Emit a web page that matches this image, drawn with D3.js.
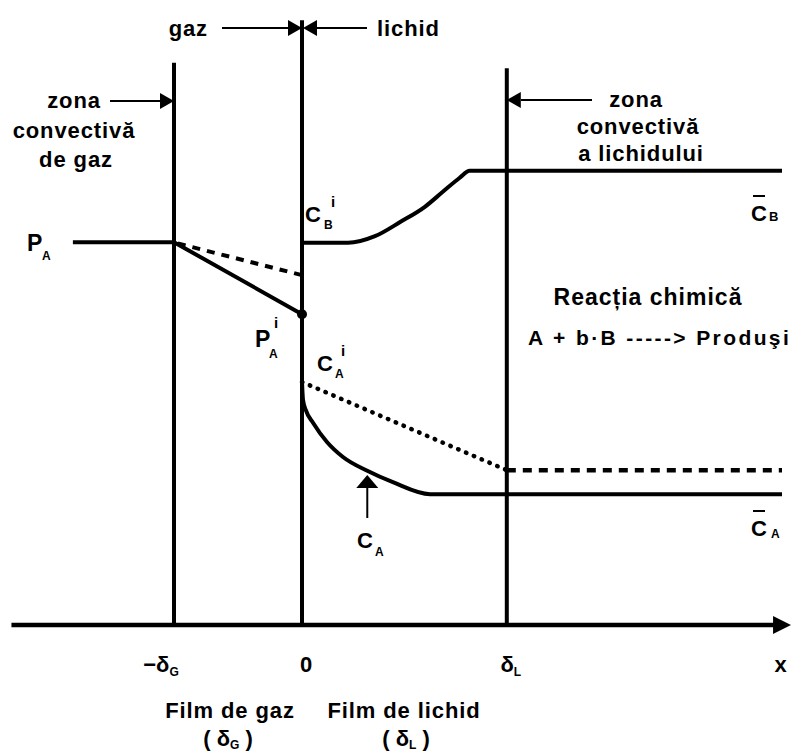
<!DOCTYPE html>
<html><head><meta charset="utf-8">
<script src="https://cdn.jsdelivr.net/npm/d3@7"></script>
<style>
html,body{margin:0;padding:0;background:#fff;}
svg text{font-family:"Liberation Sans",Arial,sans-serif;font-weight:bold;fill:#000;}
</style></head>
<body>
<svg id="c" width="791" height="753"></svg>
<script>
// ---- data (x in film units: δG = 1 ; y in arbitrary concentration/pressure units)
const boundaryNames = ["−δG", "0", "δL"];
const boundaryX = [-1, 0, 1.6];
const boundaryTop = [93.7, 100.8, 92.8];
const xTickLabels = ["−δ", "0", "δ", "x"];
const xTickSubs = ["G", "", "L", ""];
const xTickX = [-1, 0, 1.6, 3.74];

// gas phase partial pressure profile
const pAx = [-1.79, -1, 0];
const pAy = [63.8, 63.8, 51.8];
// gas-side dashed profile
const pAdashX = [-0.97, 0];
const pAdashY = [63.6, 58.3];
// reactant B in liquid
const cBx = [0, 0.36, 0.57, 0.77, 0.96, 1.10, 1.23, 1.31, 3.75];
const cBy = [63.7, 63.7, 64.8, 67.2, 69.7, 72.2, 74.5, 75.7, 75.7];
// reactant A in liquid (with reaction)
const cAx = [0, 0.008, 0.03, 0.086, 0.195, 0.32, 0.51, 0.71, 1.0, 3.75];
const cAy = [40.5, 37.5, 35.8, 33.7, 30.5, 28.0, 25.7, 23.8, 21.8, 21.8];
// A without reaction (dotted in film, dashed in bulk)
const cAnoRxX = [0, 1.6];
const cAnoRxY = [40.5, 25.8];
const cAbulkX = [1.6, 3.75];
const cAbulkY = [25.8, 25.8];

const svg = d3.select("#c");
const x = d3.scaleLinear().domain([-2.3, 3.8]).range([7.6, 788.4]);
const y = d3.scaleLinear().domain([0, 100]).range([625, 25]);
const line = d3.line().x(d => x(d[0])).y(d => y(d[1]));
const zip = (a, b) => a.map((v, i) => [v, b[i]]);

// axis
const axisG = svg.append("g").attr("transform", `translate(0,${y(0)})`);
const axis = d3.axisBottom(x).tickValues([]).tickSizeOuter(0);
axisG.call(axis);
axisG.select(".domain").attr("d", `M${x(-2.27)},0H${x(3.7)}`).attr("stroke", "#000").attr("stroke-width", 4.5);
svg.append("path").attr("d", `M${x(3.68)},${y(0)-9}L${791},${y(0)}L${x(3.68)},${y(0)+9}Z`).attr("fill", "#000");

// boundary lines
svg.selectAll("line.bd").data(boundaryX).join("line").attr("class", "bd")
  .attr("x1", d => x(d)).attr("x2", d => x(d))
  .attr("y1", (d, i) => y(boundaryTop[i])).attr("y2", y(0))
  .attr("stroke", "#000").attr("stroke-width", 4);

// profiles
svg.append("path").attr("d", line(zip(pAx, pAy))).attr("fill", "none").attr("stroke", "#000").attr("stroke-width", 4);
svg.append("path").attr("d", line(zip(pAdashX, pAdashY))).attr("fill", "none").attr("stroke", "#000").attr("stroke-width", 4).attr("stroke-dasharray", "8 7");
svg.append("circle").attr("cx", x(0)).attr("cy", y(51.8)).attr("r", 5).attr("fill", "#000");

const curve = d3.line().x(d => x(d[0])).y(d => y(d[1])).curve(d3.curveMonotoneX);
svg.append("path").attr("d", curve(zip(cBx, cBy))).attr("fill", "none").attr("stroke", "#000").attr("stroke-width", 4);
svg.append("path").attr("d", curve(zip(cAx, cAy))).attr("fill", "none").attr("stroke", "#000").attr("stroke-width", 4);
svg.append("path").attr("d", line(zip(cAnoRxX, cAnoRxY))).attr("fill", "none").attr("stroke", "#000").attr("stroke-width", 4.5).attr("stroke-linecap", "round").attr("stroke-dasharray", "0.5 8");
svg.append("path").attr("d", line(zip(cAbulkX, cAbulkY))).attr("fill", "none").attr("stroke", "#000").attr("stroke-width", 4.5).attr("stroke-dasharray", "9 7");

// arrows
function arrow(x1, y1, x2, y2, head, half) {
  const dx = x2 - x1, dy = y2 - y1, L = Math.hypot(dx, dy), ux = dx / L, uy = dy / L;
  const bx = x2 - ux * head, by = y2 - uy * head;
  svg.append("line").attr("x1", x1).attr("y1", y1).attr("x2", bx).attr("y2", by).attr("stroke", "#000").attr("stroke-width", 2);
  svg.append("path").attr("d", `M${x2},${y2}L${bx - uy * half},${by + ux * half}L${bx + uy * half},${by - ux * half}Z`).attr("fill", "#000");
}
arrow(222, 28, x(0), 28, 14, 8);
arrow(367, 28, x(0) + 1, 28, 14, 8);
arrow(110, 101, x(-1), 101, 14, 8);
arrow(592, 100, x(1.6), 100, 14, 8);
arrow(x(0.51), 518, x(0.51), 475, 13, 11);

// text helper
function txt(s, px, py, size, anchor, ls) {
  return svg.append("text").attr("x", px).attr("y", py).attr("font-size", size)
    .attr("text-anchor", anchor || "start").attr("letter-spacing", ls == null ? 0.9 : ls).text(s);
}
txt("gaz", 208, 36, 22, "end");
txt("lichid", 377, 36, 22, "start");
txt("zona", 74, 108, 22, "middle");
txt("convectivă", 74, 138, 22, "middle");
txt("de gaz", 76, 167, 22, "middle");
txt("zona", 636, 107, 22, "middle");
txt("convectivă", 638, 134, 22, "middle");
txt("a lichidului", 641, 161, 22, "middle");
txt("Reacția chimică", 648, 305, 23, "middle", 1);
txt("A + b·B -----> Produşi", 528, 345, 21, "start", 2.4);

// symbols
txt("P", 27, 251, 23, "start", 0); txt("A", 42, 260, 12, "start", 0);
txt("P", 255, 347, 23, "start", 0); txt("A", 269, 358, 12, "start", 0); txt("i", 274, 328, 15, "start", 0);
txt("C", 305, 222, 22, "start", 0); txt("B", 324, 229, 12, "start", 0); txt("i", 331, 207, 15, "start", 0);
txt("C", 317, 371, 22, "start", 0); txt("A", 335, 378, 12, "start", 0); txt("i", 341, 356, 15, "start", 0);
txt("C", 357, 548, 22, "start", 0); txt("A", 375, 556, 12, "start", 0);
txt("C", 751, 221, 22, "start", 0); txt("B", 769, 221, 13, "start", 0);
svg.append("line").attr("x1", 753).attr("x2", 765).attr("y1", 196).attr("y2", 196).attr("stroke", "#000").attr("stroke-width", 2);
txt("C", 751, 536, 22, "start", 0); txt("A", 771, 538, 12, "start", 0);
svg.append("line").attr("x1", 753).attr("x2", 765).attr("y1", 511).attr("y2", 511).attr("stroke", "#000").attr("stroke-width", 2);

// tick labels
const tickOffsets = [-13, 4, 4, 0];
xTickLabels.forEach((s, i) => {
  const t = txt(s, x(xTickX[i]) + tickOffsets[i], 672, 22, "middle", 0);
  if (xTickSubs[i]) t.append("tspan").attr("font-size", 12).attr("dy", 4).text(xTickSubs[i]);
});

txt("Film de gaz", 230, 718, 22, "middle");
txt("Film de lichid", 404, 718, 22, "middle");
const g1 = txt("( δ", 228, 746, 22, "middle", 0); g1.append("tspan").attr("font-size", 12).attr("dy", 3).text("G"); g1.append("tspan").attr("dy", -3).text(" )");
const g2 = txt("( δ", 406, 746, 22, "middle", 0); g2.append("tspan").attr("font-size", 12).attr("dy", 3).text("L"); g2.append("tspan").attr("dy", -3).text(" )");
</script>
</body></html>
